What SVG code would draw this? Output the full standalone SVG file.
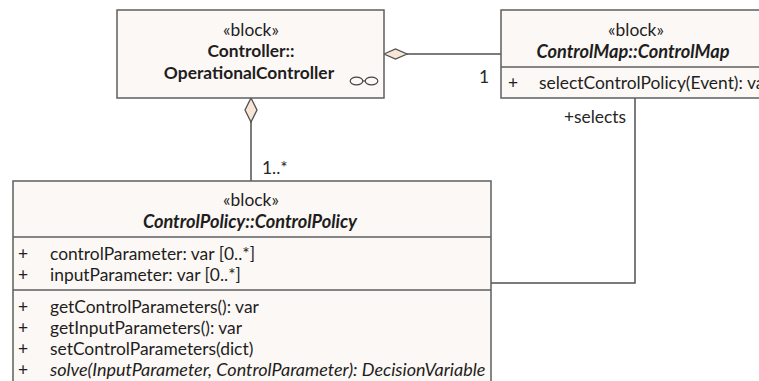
<svg xmlns="http://www.w3.org/2000/svg" width="759" height="381" viewBox="0 0 759 381">
  <style>
    .box { fill: #fcf8f5; stroke: #5f5f5f; stroke-width: 1.5; }
    .div { stroke: #5f5f5f; stroke-width: 1.5; }
    .edge { fill: none; stroke: #505050; stroke-width: 1.5; }
    .agg { fill: #f6e6d6; stroke: #505050; stroke-width: 1.3; }
    text { font-family: Lato, "Liberation Sans", sans-serif; font-size: 17.4px; fill: #1e1e1e; }
    .c { text-anchor: middle; }
    .b { font-weight: bold; font-size: 17.4px; }
    .bi { font-weight: bold; font-style: italic; font-size: 18.2px; }
    .i { font-style: italic; font-size: 18px; }
    .lbl { fill: #262626; }
  </style>

  <rect width="759" height="381" fill="#ffffff"/>

  <g id="connectors">
    <!-- OperationalController <>— ControlMap -->
    <line class="edge" x1="407" y1="54" x2="501" y2="54"/>
    <polygon class="agg" points="384,54 395.5,49 407,54 395.5,59"/>
    <text class="lbl" x="484" y="83" text-anchor="middle">1</text>
    <!-- OperationalController <>— ControlPolicy -->
    <line class="edge" x1="251" y1="122" x2="251" y2="181"/>
    <polygon class="agg" points="251,98 257,110 251,122 245,110"/>
    <text class="lbl" x="262" y="174">1..*</text>
    <!-- ControlMap — ControlPolicy (selects) -->
    <polyline class="edge" points="635,98 635,283 491,283"/>
    <text class="lbl" x="595" y="123" text-anchor="middle">+selects</text>
  </g>

  <g id="OperationalController">
    <rect class="box" x="117" y="10" width="267" height="88"/>
    <text class="c" x="251" y="36">«block»</text>
    <text class="c b" x="251" y="57">Controller::</text>
    <text class="c b" x="249" y="79">OperationalController</text>
    <!-- composite marker -->
    <g fill="none" stroke="#444" stroke-width="1.2">
      <ellipse cx="356.5" cy="81" rx="6.3" ry="3.8"/>
      <ellipse cx="371.5" cy="81" rx="6.3" ry="3.8"/>
      <line x1="362.8" y1="81" x2="365.2" y2="81"/>
    </g>
  </g>

  <g id="ControlMap">
    <rect class="box" x="501" y="10" width="270" height="88"/>
    <line class="div" x1="501" y1="67" x2="771" y2="67"/>
    <text class="c" x="636" y="36">«block»</text>
    <text class="c bi" x="633" y="58">ControlMap::ControlMap</text>
    <text x="508" y="89">+</text>
    <text x="539" y="89">selectControlPolicy(Event): var</text>
  </g>

  <g id="ControlPolicy">
    <rect class="box" x="13" y="181" width="478" height="210"/>
    <line class="div" x1="13" y1="237" x2="491" y2="237"/>
    <line class="div" x1="13" y1="290" x2="491" y2="290"/>
    <text class="c" x="251" y="206">«block»</text>
    <text class="c bi" x="250" y="228">ControlPolicy::ControlPolicy</text>
    <text x="18" y="260">+</text>
    <text x="50" y="260">controlParameter: var [0..*]</text>
    <text x="18" y="281">+</text>
    <text x="50" y="281">inputParameter: var [0..*]</text>
    <text x="18" y="313">+</text>
    <text x="50" y="313">getControlParameters(): var</text>
    <text x="18" y="334">+</text>
    <text x="50" y="334">getInputParameters(): var</text>
    <text x="18" y="355">+</text>
    <text x="50" y="355">setControlParameters(dict)</text>
    <text x="18" y="376">+</text>
    <text class="i" x="50" y="376">solve(InputParameter, ControlParameter): DecisionVariable</text>
  </g>
</svg>
